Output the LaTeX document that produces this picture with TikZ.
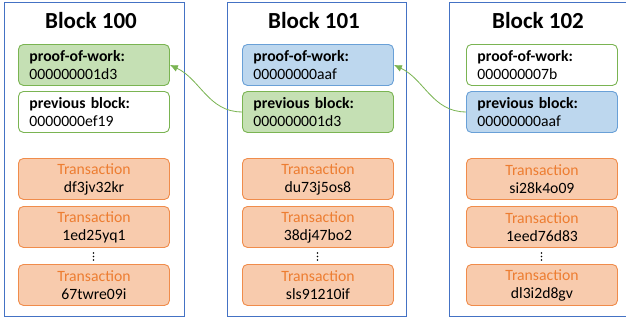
\documentclass[tikz,border=0pt]{standalone}
\usepackage{fontspec}
\setmainfont{Carlito}
\usetikzlibrary{arrows.meta}
\definecolor{blockline}{RGB}{68,114,196}
\definecolor{grline}{RGB}{122,180,82}
\definecolor{grfill}{RGB}{197,224,180}
\definecolor{blline}{RGB}{105,160,215}
\definecolor{blfill}{RGB}{189,215,238}
\definecolor{orline}{RGB}{240,140,75}
\definecolor{orfill}{RGB}{248,203,173}
\definecolor{ortext}{RGB}{237,125,49}
\begin{document}
\begin{tikzpicture}[x=1pt,y=1pt,
  frame/.style={draw=blockline, line width=0.8pt},
  title/.style={font=\fontsize{23}{26}\selectfont\bfseries, anchor=base},
  field/.style={draw, rounded corners=5pt, line width=0.9pt, minimum width=151pt,
    minimum height=41pt, text width=129pt, inner xsep=11pt, inner ysep=0pt,
    align=left, font=\fontsize{15.7}{18}\selectfont, anchor=north west},
  green/.style={field, draw=grline, fill=grfill},
  blue/.style={field, draw=blline, fill=blfill},
  white/.style={field, draw=grline, fill=white},
  tx/.style={field, draw=orline, fill=orfill, align=center},
  dotmark/.style={circle, fill=black, inner sep=0pt, minimum size=1.6pt},
  link/.style={draw=grline, line width=0.8pt, -{Latex[length=8pt,width=7pt]}}
]
\useasboundingbox (0,0) rectangle (626,-324);
\fill[white] (-6,6) rectangle (632,-330);

% frames
\draw[frame] (4,-2) rectangle (184,-316);
\draw[frame] (227,-2) rectangle (406,-316);
\draw[frame] (632,-2) -- (449,-2) -- (449,-316) -- (632,-316);

% titles
\node[title] (t100) at (91,-28) {Block 100};
\node[title] (t101) at (314,-28) {Block 101};
\node[title] (t102) at (538,-28) {Block 102};

% block 100
\node[green] (pow100) at (18,-44) {\textbf{proof-of-work:}\\000000001d3};
\node[white] (prev100) at (18,-91) {\textbf{previous block:}\\0000000ef19};
\node[tx] (a1) at (18,-158) {\textcolor{ortext}{Transaction}\\df3jv32kr};
\node[tx] (a2) at (18,-206) {\textcolor{ortext}{Transaction}\\1ed25yq1};
\node[tx] (a3) at (18,-264) {\textcolor{ortext}{Transaction}\\67twre09i};
\foreach \y [count=\i] in {-253,-256.5,-260} \node[dotmark] (ad\i) at (93.5,\y) {};

% block 101
\node[blue] (pow101) at (242,-44) {\textbf{proof-of-work:}\\00000000aaf};
\node[green] (prev101) at (242,-91) {\textbf{previous block:}\\000000001d3};
\node[tx] (b1) at (242,-158) {\textcolor{ortext}{Transaction}\\du73j5os8};
\node[tx] (b2) at (242,-206) {\textcolor{ortext}{Transaction}\\38dj47bo2};
\node[tx] (b3) at (242,-264) {\textcolor{ortext}{Transaction}\\sls91210if};
\foreach \y [count=\i] in {-253,-256.5,-260} \node[dotmark] (bd\i) at (317.5,\y) {};

% block 102
\node[white] (pow102) at (466,-44) {\textbf{proof-of-work:}\\000000007b};
\node[blue] (prev102) at (466,-91) {\textbf{previous block:}\\00000000aaf};
\node[tx] (c1) at (466,-158) {\textcolor{ortext}{Transaction}\\si28k4o09};
\node[tx] (c2) at (466,-206) {\textcolor{ortext}{Transaction}\\1eed76d83};
\node[tx] (c3) at (466,-264) {\textcolor{ortext}{Transaction}\\dl3i2d8gv};
\foreach \y [count=\i] in {-253,-256.5,-260} \node[dotmark] (cd\i) at (541.5,\y) {};

% links
\draw[link] (prev101.west) to[out=180,in=-25] (pow100.east);
\draw[link] (prev102.west) to[out=180,in=-25] (pow101.east);
\end{tikzpicture}
\end{document}
